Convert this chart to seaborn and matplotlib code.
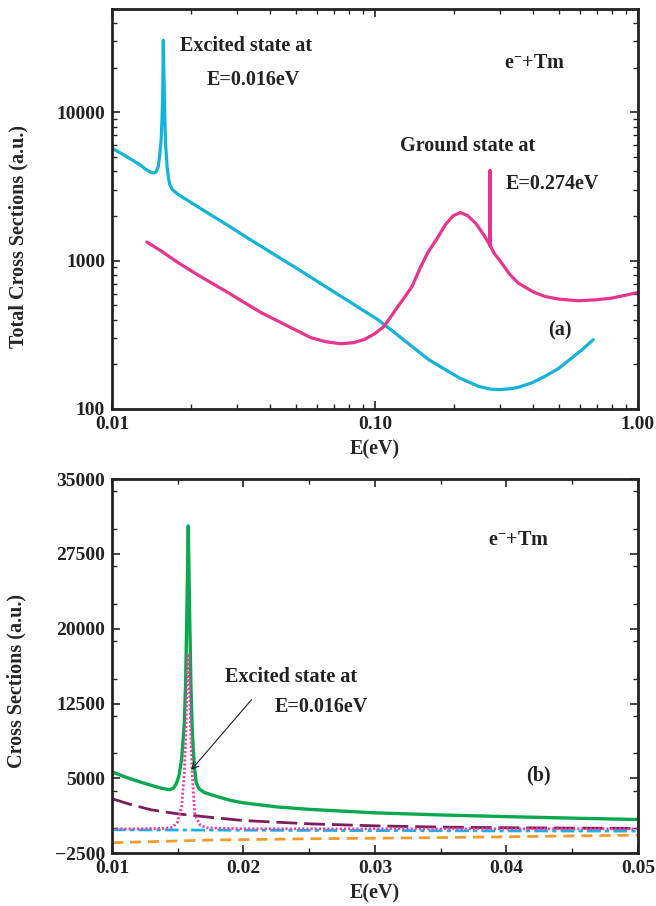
import matplotlib
matplotlib.use("Agg")
import matplotlib.pyplot as plt
import seaborn as sns
from matplotlib.ticker import FixedLocator, FuncFormatter, MultipleLocator, LogLocator, NullFormatter

# ---------------- Panel (a): total cross sections (log-log) ----------------
excited_E = [0.0100, 0.0110, 0.0119, 0.0127, 0.0134, 0.0140, 0.0144, 0.0147, 0.0150,
             0.0152, 0.01538, 0.0155, 0.0156, 0.01567, 0.0158, 0.0159, 0.0160, 0.0162,
             0.0164, 0.0166, 0.0170, 0.0179, 0.0200, 0.0239, 0.0280, 0.0320, 0.0370,
             0.0428, 0.0500, 0.0572, 0.0660, 0.0765, 0.0890, 0.1023, 0.1180, 0.1368,
             0.1600, 0.1853, 0.2094, 0.2477, 0.2750, 0.2992, 0.3300, 0.3510, 0.3950,
             0.4432, 0.5000, 0.5590, 0.6200, 0.6755]
excited_sigma = [5725, 5200, 4780, 4450, 4140, 3950, 3890, 3950, 4310,
                 5200, 6515, 9000, 14000, 30600, 14000, 8500, 6000, 4310,
                 3600, 3245, 3000, 2780, 2460, 2020, 1700, 1458, 1245,
                 1060, 895, 770, 655, 556, 469, 401, 330, 268,
                 215, 184, 162, 142, 136, 135, 137, 140, 150,
                 166, 188, 220, 255, 293]

ground_E = [0.01357, 0.0155, 0.0179, 0.0205, 0.0239, 0.0280, 0.0320, 0.0370, 0.0428,
            0.0500, 0.0572, 0.0650, 0.0743, 0.0830, 0.0911, 0.1000, 0.1085, 0.1198,
            0.1290, 0.1384, 0.1480, 0.1585, 0.1740, 0.1853, 0.1980, 0.2112, 0.2250,
            0.2420, 0.2600, 0.2740, 0.2740, 0.2740, 0.2850, 0.3034, 0.3250, 0.3510,
            0.4000, 0.4432, 0.5000, 0.5925, 0.7000, 0.7920, 0.9000, 1.0000]
ground_sigma = [1336, 1150, 965, 830, 707, 600, 519, 445, 391,
                340, 302, 284, 275, 280, 294, 322, 362, 466,
                560, 670, 880, 1124, 1450, 1750, 2000, 2109, 2010,
                1780, 1480, 1260, 4045, 1260, 1110, 962, 810, 705,
                615, 573, 550, 536, 545, 558, 585, 610]

# ---------------- Panel (b): partial cross sections (linear) ----------------
green_E = [0.0100, 0.0110, 0.0120, 0.0130, 0.0138, 0.0144, 0.0147, 0.0149, 0.0151,
           0.0153, 0.0155, 0.0156, 0.0157, 0.0158, 0.0159, 0.0160, 0.0161, 0.0162,
           0.0163, 0.0164, 0.0166, 0.0170, 0.0177, 0.0190, 0.0200, 0.0225, 0.0250,
           0.0300, 0.0350, 0.0400, 0.0450, 0.0500]
green_sigma = [5660, 5150, 4700, 4300, 4000, 3870, 4050, 4500, 5300,
               7000, 10500, 14500, 22000, 30300, 22000, 14500, 10000, 7500,
               5800, 4600, 4000, 3600, 3300, 2800, 2550, 2150, 1900,
               1550, 1340, 1170, 1020, 880]

pink_E = [0.0100, 0.0120, 0.0140, 0.0146, 0.0150, 0.0153, 0.0155, 0.0156, 0.0157,
          0.0158, 0.0159, 0.0160, 0.0161, 0.0163, 0.0167, 0.0172, 0.0200, 0.0300,
          0.0400, 0.0500]
pink_sigma = [-50, -50, 0, 100, 650, 2200, 5500, 9000, 14000,
              17500, 14000, 9000, 5500, 1400, 330, 50, -50, -50,
              -50, -50]

maroon_E = [0.0100, 0.0115, 0.0130, 0.0150, 0.0175, 0.0200, 0.0250, 0.0300, 0.0350,
            0.0400, 0.0450, 0.0500]
maroon_sigma = [2970, 2350, 1850, 1450, 1100, 780, 450, 250, 120, 60, 20, 0]

cyan_E = [0.010, 0.020, 0.030, 0.040, 0.050]
cyan_sigma = [-150, -190, -230, -260, -280]

orange_E = [0.010, 0.0177, 0.025, 0.0342, 0.050]
orange_sigma = [-1440, -1170, -1050, -940, -680]

top_xticks = [0.01, 0.1, 1.0]
top_yticks = [100, 1000, 10000]
bot_xticks = [0.01, 0.02, 0.03, 0.04, 0.05]
bot_yticks = [-2500, 5000, 12500, 20000, 27500, 35000]

# ---------------- style ----------------
sns.set_theme(style="ticks")
plt.rcParams['font.family'] = ['Liberation Serif', 'DejaVu Serif']
plt.rcParams['font.weight'] = 'bold'
plt.rcParams['axes.labelweight'] = 'bold'
plt.rcParams['mathtext.fontset'] = 'custom'
plt.rcParams['mathtext.rm'] = 'Liberation Serif:bold'
plt.rcParams['mathtext.bf'] = 'Liberation Serif:bold'
plt.rcParams['mathtext.it'] = 'Liberation Serif:bold'
plt.rcParams['lines.scale_dashes'] = False
plt.rcParams['lines.solid_joinstyle'] = 'round'

FS = 14.5
TFS = 14

fig = plt.figure(figsize=(6.56, 9.06), dpi=100)
ax1 = fig.add_axes([0.1707, 0.5486, 0.8018, 0.4420])
ax2 = fig.add_axes([0.1707, 0.0582, 0.8018, 0.4131])

def style_axes(ax):
    for s in ax.spines.values():
        s.set_linewidth(2.0)
        s.set_color('#222222')
        s.set_visible(True)
    ax.tick_params(which='both', direction='in', top=True, right=True,
                   colors='#222222', labelcolor='#222222')
    ax.tick_params(which='major', length=6, width=1.2, labelsize=TFS, pad=5)
    ax.tick_params(which='minor', length=3.5, width=1.0)
    for lab in ax.get_xticklabels() + ax.get_yticklabels():
        lab.set_fontweight('bold')

# ---- panel (a)
ax1.set_xscale('log')
ax1.set_yscale('log')
sns.lineplot(x=excited_E, y=excited_sigma, ax=ax1, color='#12b4d9', lw=2.3,
             sort=False, estimator=None)
sns.lineplot(x=ground_E, y=ground_sigma, ax=ax1, color='#e8338f', lw=2.3,
             sort=False, estimator=None)
ax1.set_xlim(0.01, 1.0)
ax1.set_ylim(100, 50000)
ax1.xaxis.set_major_locator(FixedLocator(top_xticks))
ax1.xaxis.set_major_formatter(FuncFormatter(lambda v, p: f"{v:.2f}"))
ax1.xaxis.set_minor_locator(LogLocator(base=10, subs=range(2, 10)))
ax1.xaxis.set_minor_formatter(NullFormatter())
ax1.yaxis.set_major_locator(FixedLocator(top_yticks))
ax1.yaxis.set_major_formatter(FuncFormatter(lambda v, p: f"{int(round(v))}"))
ax1.yaxis.set_minor_locator(LogLocator(base=10, subs=range(2, 10)))
ax1.yaxis.set_minor_formatter(NullFormatter())
style_axes(ax1)
ax1.set_xlabel("E(eV)", fontsize=FS, fontweight='bold')
ax1.set_ylabel("Total Cross Sections (a.u.)", fontsize=FS, fontweight='bold')
ax1.yaxis.set_label_coords(-0.158, 0.43)
ax1.xaxis.set_label_coords(0.5, -0.075)

kw = dict(transform=ax1.transAxes, fontsize=FS, fontweight='bold', ha='left', va='center', color='#222222')
ax1.text(0.129, 0.906, "Excited state at", **kw)
ax1.text(0.181, 0.821, "E=0.016eV", **kw)
ax1.text(0.745, 0.863, r"e$^{-}$+Tm", **kw)
ax1.text(0.548, 0.656, "Ground state at", **kw)
ax1.text(0.749, 0.5615, "E=0.274eV", **kw)
ax1.text(0.829, 0.195, "(a)", **kw)

# ---- panel (b)
sns.lineplot(x=orange_E, y=orange_sigma, ax=ax2, color='#f59a2c', lw=2.0,
             linestyle=(0, (8, 5)), sort=False, estimator=None)
sns.lineplot(x=cyan_E, y=cyan_sigma, ax=ax2, color='#1ab2e8', lw=2.0,
             linestyle=(0, (10, 3, 3, 3)), sort=False, estimator=None)
sns.lineplot(x=maroon_E, y=maroon_sigma, ax=ax2, color='#7a1f5c', lw=2.0,
             linestyle=(0, (15, 5)), sort=False, estimator=None)
sns.lineplot(x=green_E, y=green_sigma, ax=ax2, color='#0aa84f', lw=2.4,
             sort=False, estimator=None)
sns.lineplot(x=pink_E, y=pink_sigma, ax=ax2, color='#f03ca5', lw=2.0,
             linestyle=(0, (1.5, 1.5)), sort=False, estimator=None)
ax2.set_xlim(0.01, 0.05)
ax2.set_ylim(-2500, 35000)
ax2.xaxis.set_major_locator(FixedLocator(bot_xticks))
ax2.xaxis.set_major_formatter(FuncFormatter(lambda v, p: f"{v:.2f}"))
ax2.xaxis.set_minor_locator(MultipleLocator(0.005))
ax2.yaxis.set_major_locator(FixedLocator(bot_yticks))
ax2.yaxis.set_major_formatter(FuncFormatter(lambda v, p: f"{int(round(v))}".replace('-', '\u2212')))
ax2.yaxis.set_minor_locator(MultipleLocator(3750))
style_axes(ax2)
ax2.set_xlabel("E(eV)", fontsize=FS, fontweight='bold')
ax2.set_ylabel("Cross Sections (a.u.)", fontsize=FS, fontweight='bold')
ax2.yaxis.set_label_coords(-0.162, 0.46)
ax2.xaxis.set_label_coords(0.5, -0.082)

kw2 = dict(transform=ax2.transAxes, fontsize=FS, fontweight='bold', ha='left', va='center', color='#222222')
ax2.text(0.215, 0.472, "Excited state at", **kw2)
ax2.text(0.310, 0.392, "E=0.016eV", **kw2)
ax2.text(0.715, 0.837, r"e$^{-}$+Tm", **kw2)
ax2.text(0.788, 0.209, "(b)", **kw2)
ax2.annotate("", xy=(0.01588, 5630), xytext=(0.02075, 13100),
             arrowprops=dict(arrowstyle='->', color='#222222', lw=0.8))

fig.savefig("out.png", dpi=100)
